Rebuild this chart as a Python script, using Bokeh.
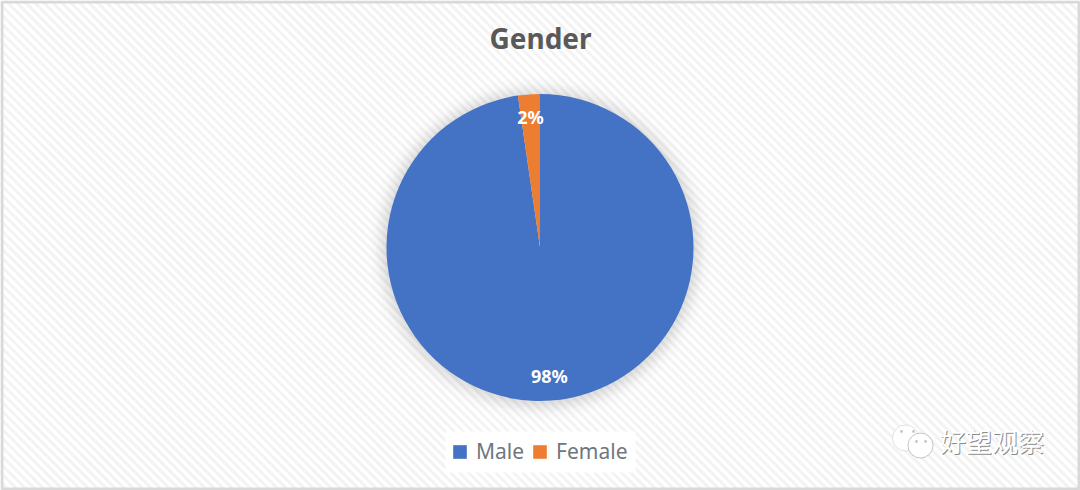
from bokeh.plotting import figure
from bokeh.embed import file_html
from bokeh.resources import INLINE
from bokeh.models import Legend, LegendItem, Range1d
from bokeh.core.properties import value
import numpy as np

TITLE = "Gender"
categories = ["Male", "Female"]
shares = [97.7, 2.3]
colors = ["#4472C4", "#ED7D31"]
watermark = "好望观察"

W, H = 1080, 490
CX, CY, R = 539.5, 243, 153.5   # y measured upward from the bottom
p = figure(width=W, height=H, output_backend="svg", toolbar_location=None,
           x_range=Range1d(0, W), y_range=Range1d(0, H),
           min_border=0, min_border_left=0, min_border_right=0,
           min_border_top=0, min_border_bottom=0,
           background_fill_color="#ffffff", border_fill_color="#ffffff",
           outline_line_color=None,
           styles={"position": "absolute", "left": "0px", "top": "0px"})
p.xaxis.visible = False
p.yaxis.visible = False
p.grid.visible = False

# hatch background
c = np.arange(-H, W + H, 9.0)
p.segment(x0=c, y0=np.full_like(c, H), x1=c + H, y1=np.zeros_like(c),
          line_color="#f3f3f3", line_width=3)

# frame
p.quad(left=[1.5], right=[W - 1.5], bottom=[1.5], top=[H - 1.5], fill_color=None,
       line_color="#d9d9d9", line_width=3)

# shadow around the pie
for dr, a in zip([18, 15, 12, 10, 8, 6, 4, 2], [0.015, 0.02, 0.025, 0.03, 0.03, 0.035, 0.04, 0.05]):
    p.circle(x=[CX], y=[CY - 1], radius=R + dr, fill_color="#808080", fill_alpha=a, line_color=None)

# pie
frac = np.array(shares) / sum(shares)
ends = 2 * np.pi * np.cumsum(frac)
starts = np.concatenate([[0], ends[:-1]])
items = []
for i, name in enumerate(categories):
    r = p.wedge(x=[CX], y=[CY], radius=R,
                start_angle=[np.pi / 2 - ends[i]], end_angle=[np.pi / 2 - starts[i]],
                fill_color=colors[i], line_color=None)
    items.append(LegendItem(label=value(name), renderers=[r]))

# slice labels
mids = np.pi / 2 - (starts + ends) / 2
lab_r = np.array([R * 0.84, R * 0.85])
p.text(x=CX + lab_r * np.cos(mids), y=CY + lab_r * np.sin(mids),
       text=[f"{round(s)}%" for s in shares], text_color="#ffffff", text_font=value("Noto Sans"),
       text_font_size="18px", text_font_style="bold", text_align="center", text_baseline="middle")

# title
p.text(x=[W / 2], y=[H - 37], text=[TITLE], text_color="#595959", text_font=value("Noto Sans"),
       text_font_size="28px", text_font_style="bold", text_align="center", text_baseline="middle")

# legend backing box and legend
p.quad(left=[445], right=[635], bottom=[18], top=[59], fill_color="#ffffff", line_color=None)
leg = Legend(items=items, orientation="horizontal", location=(451, 25),
             background_fill_alpha=0.0, border_line_color=None,
             label_text_font="Noto Sans", label_text_font_size="21px", label_text_color="#6f777d",
             glyph_width=17, glyph_height=17, spacing=7, label_standoff=8,
             label_height=25, padding=0, margin=0)
p.add_layout(leg, "center")

# watermark
bubbles = [(905, 52.5, 13, "#e2e2e2"), (920, 45, 12.5, "#c4c4c4")]
for bx, by, br, lc in bubbles:
    p.circle(x=[bx], y=[by], radius=br, fill_color="#ffffff", line_color=lc, line_width=1)
eyes = [(901, 59), (913, 59), (916, 49), (925, 49)]
p.circle(x=[e[0] for e in eyes], y=[e[1] for e in eyes], radius=1.4, fill_color="#c4c4c4", line_color=None)
p.text(x=[992.5], y=[49], text=[watermark], text_color="#8c8c8c", text_font=value("Noto Sans CJK SC"),
       text_font_size="26px", text_align="center", text_baseline="middle")
p.text(x=[991.5], y=[50], text=[watermark], text_color="#ffffff", text_font=value("Noto Sans CJK SC"),
       text_font_size="26px", text_align="center", text_baseline="middle")

open("out.html", "w").write(file_html(p, INLINE))
